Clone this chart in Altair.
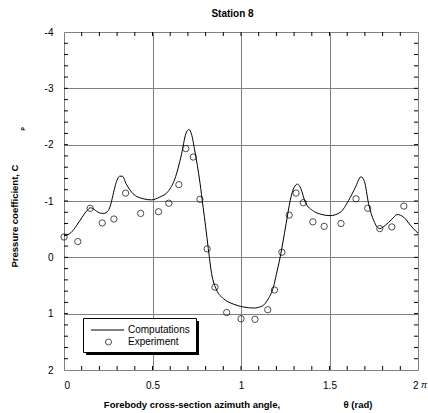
import altair as alt
import pandas as pd

# Computations (theta in units of pi, Cp)
comp_x = [0.000, 0.020, 0.040, 0.070, 0.100, 0.130, 0.150, 0.170, 0.200, 0.225, 0.250, 0.265,
          0.280, 0.295, 0.315, 0.330, 0.352, 0.390, 0.447, 0.494, 0.541, 0.588, 0.626, 0.664,
          0.688, 0.705, 0.720, 0.739, 0.768, 0.786, 0.800, 0.815, 0.834, 0.862, 0.900, 0.957,
          1.013, 1.070, 1.117, 1.155, 1.183, 1.200, 1.221, 1.255, 1.278, 1.300, 1.319, 1.338,
          1.363, 1.410, 1.457, 1.504, 1.561, 1.608, 1.646, 1.678, 1.697, 1.721, 1.750, 1.784,
          1.816, 1.854, 1.882, 1.920, 1.957, 1.986, 2.000]
comp_y = [-0.38, -0.40, -0.44, -0.56, -0.70, -0.83, -0.88, -0.85, -0.79, -0.78, -0.83, -0.95,
          -1.15, -1.33, -1.44, -1.44, -1.30, -1.13, -1.04, -1.02, -1.07, -1.17, -1.39, -1.83,
          -2.19, -2.27, -2.19, -1.89, -1.33, -0.89, -0.55, -0.16, 0.29, 0.58, 0.73, 0.83,
          0.88, 0.90, 0.87, 0.73, 0.53, 0.30, 0.00, -0.60, -1.01, -1.24, -1.30, -1.22,
          -0.98, -0.82, -0.76, -0.74, -0.80, -1.01, -1.24, -1.43, -1.35, -0.95, -0.65, -0.51,
          -0.57, -0.68, -0.76, -0.71, -0.57, -0.47, -0.43]

# Experiment
exp_x = [0.000, 0.078, 0.148, 0.216, 0.282, 0.348, 0.433, 0.534, 0.592, 0.649, 0.688, 0.730,
         0.768, 0.809, 0.853, 0.919, 1.000, 1.079, 1.151, 1.189, 1.231, 1.272, 1.311, 1.352,
         1.406, 1.470, 1.565, 1.650, 1.716, 1.784, 1.852, 1.920]
exp_y = [-0.36, -0.28, -0.87, -0.61, -0.68, -1.14, -0.78, -0.81, -0.96, -1.29, -1.93, -1.78,
         -1.03, -0.15, 0.53, 0.98, 1.09, 1.10, 0.93, 0.58, -0.09, -0.75, -1.14, -0.97,
         -0.63, -0.55, -0.60, -1.04, -0.87, -0.51, -0.54, -0.91]

x_ticks = [round(0.1 * i, 1) for i in range(1, 20)]
y_ticks = [round(-4 + 0.2 * i, 1) for i in range(1, 30)]
x_labels = [0, 0.5, 1, 1.5, 2]
y_labels = [-4, -3, -2, -1, 0, 1, 2]

W, H = 354, 338
FONT = "Liberation Sans"

xs = alt.Scale(domain=[0, 2], nice=False, zero=False)
ys = alt.Scale(domain=[-4, 2], nice=False, zero=False, reverse=True)

ax_x = alt.Axis(values=x_labels, title=None, grid=True, gridColor="#808080", gridWidth=1,
                tickSize=0, domain=False, labelPadding=10, labelFont=FONT, labelFontSize=10,
                labelColor="black", labelExpr="'' + datum.value")
ax_y = alt.Axis(values=y_labels, title=None, grid=True, gridColor="#808080", gridWidth=1,
                tickSize=0, domain=False, labelPadding=11, labelFont=FONT, labelFontSize=10,
                labelColor="black", labelExpr="'' + datum.value")

comp_df = pd.DataFrame({"x": comp_x, "y": comp_y})
exp_df = pd.DataFrame({"x": exp_x, "y": exp_y})
xt_df = pd.DataFrame({"x": x_ticks})
yt_df = pd.DataFrame({"y": y_ticks})

line = alt.Chart(comp_df).mark_line(color="black", strokeWidth=1, interpolate="monotone").encode(
    x=alt.X("x:Q", scale=xs, axis=ax_x),
    y=alt.Y("y:Q", scale=ys, axis=ax_y),
)
pts = alt.Chart(exp_df).mark_point(shape="circle", size=40, color="black", strokeWidth=1,
                                   filled=False).encode(
    x=alt.X("x:Q", scale=xs, axis=ax_x),
    y=alt.Y("y:Q", scale=ys, axis=ax_y),
)

xt_bot = alt.Chart(xt_df).mark_rule(color="black", strokeWidth=1).encode(
    x=alt.X("x:Q", scale=xs, axis=ax_x), y=alt.value(H), y2=alt.value(H - 4))
xt_top = alt.Chart(xt_df).mark_rule(color="black", strokeWidth=1).encode(
    x=alt.X("x:Q", scale=xs, axis=ax_x), y=alt.value(0), y2=alt.value(4))
yt_left = alt.Chart(yt_df).mark_rule(color="black", strokeWidth=1).encode(
    y=alt.Y("y:Q", scale=ys, axis=ax_y), x=alt.value(0), x2=alt.value(4))
yt_right = alt.Chart(yt_df).mark_rule(color="black", strokeWidth=1).encode(
    y=alt.Y("y:Q", scale=ys, axis=ax_y), x=alt.value(W), x2=alt.value(W - 4))

# Legend box with shadow
one = pd.DataFrame({"k": [0]})
leg_shadow = alt.Chart(one).mark_rect(color="black").encode(
    x=alt.value(22), x2=alt.value(135), y=alt.value(289), y2=alt.value(323))
leg_box = alt.Chart(one).mark_rect(fill="white", stroke="black", strokeWidth=1).encode(
    x=alt.value(19.5), x2=alt.value(132.5), y=alt.value(286.5), y2=alt.value(320.5))
leg_line = alt.Chart(one).mark_rule(color="black", strokeWidth=1).encode(
    x=alt.value(27), x2=alt.value(60), y=alt.value(298))
leg_pt = alt.Chart(one).mark_point(shape="circle", size=36, color="black", strokeWidth=1,
                                   filled=False).encode(x=alt.value(44.5), y=alt.value(310))


def txt(s, x, y, size=10, weight="normal", angle=0, align="left", style="normal"):
    return alt.Chart(pd.DataFrame({"t": [s]})).mark_text(
        font=FONT, fontSize=size, fontWeight=weight, angle=angle, align=align,
        baseline="middle", color="black", fontStyle=style,
    ).encode(text="t:N", x=alt.value(x), y=alt.value(y))


texts = [
    txt("Computations", 64, 298, 10),
    txt("Experiment", 64, 310, 10),
    txt("Station 8", 168.5, -18, 10, "bold", align="center"),
    txt("Forebody cross-section azimuth angle,", 128, 373, 9.5, "bold", align="center"),
    txt("θ (rad)", 294, 373, 9.5, "bold", align="center"),
    txt("π", 360, 353, 9, style="italic", align="center"),
    txt("Pressure coefficient, C", -49, 184, 9.5, "bold", angle=270, align="center"),
    txt("p", -42, 97, 6, "bold", angle=270, align="center"),
]

chart = alt.layer(
    line, pts, xt_bot, xt_top, yt_left, yt_right,
    leg_shadow, leg_box, leg_line, leg_pt, *texts
).properties(
    width=W, height=H,
    autosize=alt.AutoSizeParams(type="none"),
    padding={"left": 64, "top": 32, "right": 10, "bottom": 43},
).configure_view(stroke="black", strokeWidth=1.2).configure(background="white")

chart.save("out.html", embed_options={"renderer": "svg", "actions": False})
